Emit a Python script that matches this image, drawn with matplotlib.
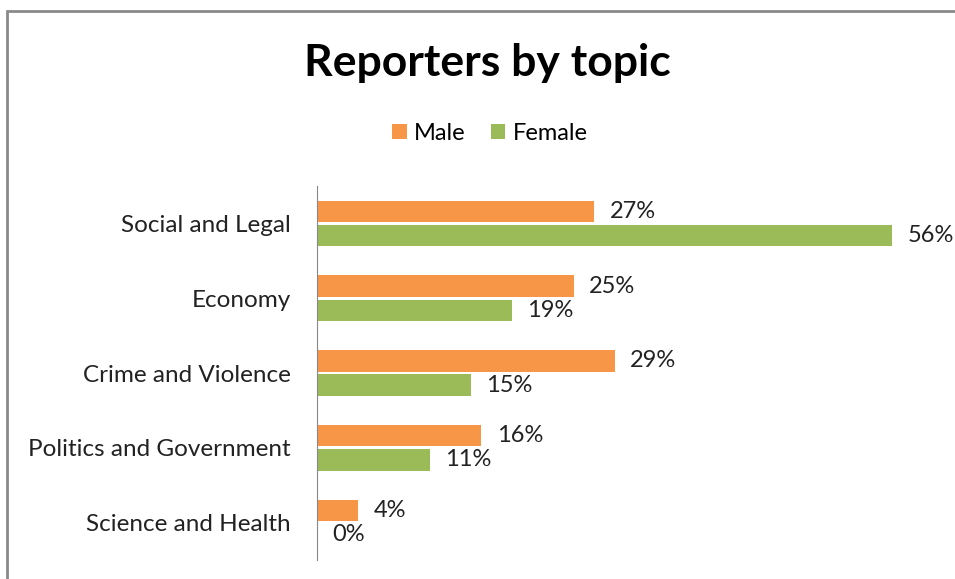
import matplotlib.pyplot as plt
import numpy as np
from matplotlib.patches import Rectangle

plt.rcParams["font.family"] = ["Lato", "DejaVu Sans"]

topics = ["Social and Legal", "Economy", "Crime and Violence",
          "Politics and Government", "Science and Health"]
male = [27, 25, 29, 16, 4]
female = [56, 19, 15, 11, 0]

MALE_C = "#F79646"
FEMALE_C = "#9BBB59"
TXT_C = "#222222"

fig = plt.figure(figsize=(9.55, 5.79), dpi=100)
ax = fig.add_axes([317 / 955, 19 / 579, 616 / 955, 374 / 579])

y = np.arange(len(topics))
h = 0.285
ax.barh(y - h / 2 - 0.02, male, height=h, color=MALE_C, label="Male")
ax.barh(y + h / 2 + 0.02, female, height=h, color=FEMALE_C, label="Female")

for yi, v in zip(y, male):
    ax.annotate(f"{v}%", xy=(v, yi - h / 2 - 0.02), xytext=(11, 0),
                textcoords="offset points", va="center", ha="left",
                fontsize=17, color=TXT_C)
for yi, v in zip(y, female):
    ax.annotate(f"{v}%", xy=(v, yi + h / 2 + 0.02), xytext=(11, 0),
                textcoords="offset points", va="center", ha="left",
                fontsize=17, color=TXT_C)

ax.set_ylim(len(topics) - 0.5, -0.5)
ax.set_xlim(0, 60)
ax.set_yticks(y)
ax.set_yticklabels(topics, fontsize=17.5, color=TXT_C)
ax.tick_params(axis="y", length=0, pad=19)
ax.set_xticks([])
for side in ["top", "right", "bottom"]:
    ax.spines[side].set_visible(False)
ax.spines["left"].set_color("#888888")
ax.spines["left"].set_linewidth(0.8)

fig.text(487 / 955, 1 - 63 / 579, "Reporters by topic", ha="center",
         va="center", fontsize=32, fontweight="bold")
fig.legend(loc="center", bbox_to_anchor=(490 / 955, 1 - 133 / 579), ncol=2,
           frameon=False, fontsize=17, handlelength=0.6, handleheight=0.6,
           handletextpad=0.3, columnspacing=1.1)

fig.add_artist(Rectangle((7 / 955, -0.1), 1.2, 1 - 11 / 579 + 0.1,
                         transform=fig.transFigure, fill=False,
                         edgecolor="#8a8a8a", linewidth=2))

fig.savefig("out.png", dpi=100)
